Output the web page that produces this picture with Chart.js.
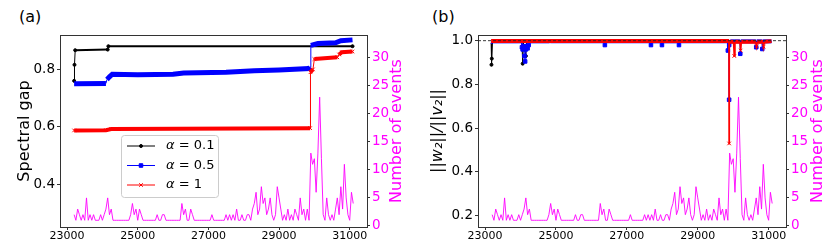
<!DOCTYPE html>
<html>
<head>
<meta charset="utf-8">
<script src="https://cdn.jsdelivr.net/npm/chart.js@4.4.0/dist/chart.umd.min.js"></script>
<style>
  body { margin: 0; background: #fff; }
  #wrap { position: relative; width: 830px; height: 249px; font-family: 'DejaVu Sans', sans-serif; }
  canvas { position: absolute; top: 0; }
  .panel-label { position: absolute; font-size: 16px; line-height: 16px; color: #000; }
</style>
</head>
<body>
<div id="wrap">
  <div class="panel-label" style="left:19px; top:9px">(a)</div>
  <div class="panel-label" style="left:432px; top:9px">(b)</div>
  <canvas id="gapChart" width="415" height="249" style="left:0"></canvas>
  <canvas id="ratioChart" width="415" height="249" style="left:415px"></canvas>
</div>
<script>
// tick labels
const xTicks = [23000, 25000, 27000, 29000, 31000];
const gapTicks = [0.4, 0.6, 0.8];
const ratioTicks = [0.2, 0.4, 0.6, 0.8, 1.0];
const eventTicks = [0, 5, 10, 15, 20, 25, 30];

const alphaLabels = ['0.1', '0.5', '1'];

// number of events, one value every 50 units from 23200
const eventStart = 23200;
const eventStep = 50;
const eventCounts = [
    2, 1, 3, 2, 1, 2, 1, 5, 1, 2, 1, 2, 1, 1, 1, 2, 1, 2, 3, 5,
    2, 3, 1, 1, 1, 1, 1, 1, 1, 1, 1, 1, 2, 4, 2, 3, 1, 3, 2, 1,
    1, 1, 1, 1, 1, 1, 1, 2, 1, 1, 2, 2, 1, 1, 1, 1, 1, 1, 1, 1,
    1, 4, 2, 3, 1, 1, 3, 2, 1, 1, 1, 1, 1, 1, 1, 1, 1, 1, 2, 1,
    1, 1, 1, 1, 1, 1, 2, 1, 2, 1, 2, 1, 3, 1, 1, 2, 1, 1, 2, 2,
    1, 3, 4, 6, 2, 3, 7, 4, 5, 2, 3, 5, 2, 1, 2, 7, 5, 3, 1, 2,
    1, 3, 1, 2, 1, 3, 2, 1, 5, 2, 3, 1, 3, 1, 13, 11, 12, 6, 13, 23,
    12, 2, 1, 5, 2, 1, 2, 1, 3, 5, 2, 7, 3, 11, 5, 2, 1, 6, 4
];

// (a) spectral gap
const gapX01 = [23200, 23210, 23230, 24150, 24170, 31080];
const gap01 = [0.76, 0.816, 0.867, 0.869, 0.881, 0.881];
const gapX05 = [23200, 24100, 24130, 24200, 24280, 25000, 26000, 26300, 27500, 28300, 29000, 29850, 29880, 29900, 30100, 30600, 30750, 31080];
const gap05 = [0.750, 0.751, 0.765, 0.774, 0.783, 0.781, 0.783, 0.787, 0.790, 0.795, 0.798, 0.803, 0.808, 0.884, 0.890, 0.893, 0.900, 0.903];
const gapX1 = [23200, 24100, 24250, 29880, 29890, 29960, 30000, 30650, 30700, 30780, 31080];
const gap1 = [0.587, 0.588, 0.592, 0.595, 0.790, 0.800, 0.836, 0.842, 0.852, 0.860, 0.862];

// (b) ||w2|| / ||v2||
const ratioX01 = [23170, 23180, 23190, 23210, 24040, 24060, 24080, 24150, 24170, 31080];
const ratio01 = [0.99, 0.89, 0.918, 0.995, 0.995, 0.895, 0.99, 0.93, 0.995, 0.995];
const ratioX05 = [23170, 23180, 23190, 24030, 24040, 24060, 24090, 24110, 24130, 24150, 24170, 24200, 24230, 24250,
    24820, 24830, 24840, 26370, 26380, 26390, 27670, 27680, 27690, 27980, 27990, 28000, 28460, 28470, 28480,
    29840, 29850, 29860, 29883, 29885, 29887, 29920, 30190, 30200, 30210, 30640, 30650, 30660, 30810, 30820, 30830, 31080];
const ratio05 = [0.99, 0.985, 0.997, 0.997, 0.97, 0.96, 0.975, 0.93, 0.905, 0.96, 0.975, 0.965, 0.98, 0.997,
    0.997, 0.99, 0.997, 0.997, 0.98, 0.997, 0.997, 0.98, 0.997, 0.997, 0.98, 0.997, 0.997, 0.98, 0.997,
    0.997, 0.955, 0.997, 0.997, 0.73, 0.98, 0.997, 0.997, 0.94, 0.997, 0.997, 0.97, 0.997, 0.997, 0.962, 0.997, 0.997];
const ratioX1 = [23170, 29880, 29885, 29890, 30010, 30030, 30050, 30190, 30210, 30230, 30640, 30660, 30680, 30840, 30860, 30880, 31080];
const ratio1 = [0.998, 0.998, 0.53, 0.995, 0.995, 0.93, 0.995, 0.995, 0.955, 0.995, 0.995, 0.975, 0.995, 0.995, 0.972, 0.995, 0.998];

const FONT = 'DejaVu Sans';
const MAGENTA = '#ff00ff';
const AXIS_COLOR = '#333';

function toPoints(xs, ys) {
    return xs.map((x, i) => ({ x: x, y: ys[i] }));
}

function eventPoints() {
    return eventCounts.map((v, i) => ({ x: eventStart + i * eventStep, y: v }));
}

// thick bands for flat runs, thin lines for the jumps
function segWidth(thick, thin) {
    return ctx => {
        const dx = Math.abs(ctx.p1.x - ctx.p0.x);
        const dy = Math.abs(ctx.p1.y - ctx.p0.y);
        return dy > dx * 1.5 ? thin : thick;
    };
}

function eventsDataset() {
    return {
        label: 'Number of events',
        data: eventPoints(),
        yAxisID: 'yEvents',
        borderColor: 'rgba(255, 0, 255, 0.9)',
        borderWidth: 1,
        pointRadius: 0,
        order: 0
    };
}

function seriesDataset(label, points, color, style, thick, order, radius, thin = 1) {
    return {
        label: label,
        data: points,
        yAxisID: 'y',
        borderColor: color,
        backgroundColor: color,
        borderWidth: thick,
        segment: { borderWidth: segWidth(thick, thin) },
        pointStyle: style,
        pointRadius: radius,
        pointBorderWidth: 1,
        pointBorderColor: color,
        pointBackgroundColor: color,
        order: order
    };
}

function buildScales(leftMin, leftMax, leftTicks, leftWidth, rightWidth) {
    const tickGrid = { display: true, drawOnChartArea: false, drawTicks: true, tickLength: 3, color: AXIS_COLOR };
    return {
        x: {
            type: 'linear',
            min: 22800,
            max: 31490,
            afterBuildTicks: s => { s.ticks = xTicks.map(v => ({ value: v })); },
            afterFit: s => { s.height = 22; },
            ticks: {
                color: '#000',
                font: { family: FONT, size: 11 },
                padding: 0,
                maxRotation: 0,
                autoSkip: false,
                callback: v => String(v)
            },
            grid: tickGrid,
            border: { display: true, color: AXIS_COLOR }
        },
        y: {
            type: 'linear',
            position: 'left',
            min: leftMin,
            max: leftMax,
            afterBuildTicks: s => { s.ticks = leftTicks.map(v => ({ value: v })); },
            afterFit: s => { s.width = leftWidth; },
            ticks: {
                color: '#000',
                font: { family: FONT, size: 13.5 },
                padding: 2,
                callback: v => v.toFixed(1)
            },
            grid: tickGrid,
            border: { display: true, color: AXIS_COLOR }
        },
        yEvents: {
            type: 'linear',
            position: 'right',
            min: -0.2,
            max: 34.1,
            afterBuildTicks: s => { s.ticks = eventTicks.map(v => ({ value: v })); },
            afterFit: s => { s.width = rightWidth; },
            ticks: { color: MAGENTA, font: { family: FONT, size: 13.5 }, padding: 2 },
            grid: tickGrid,
            border: { display: true, color: AXIS_COLOR }
        }
    };
}

// frame, axis titles (both read bottom to top) and reference line
const decorPlugin = {
    id: 'decor',
    afterDatasetsDraw(chart, args, opts) {
        const { ctx, chartArea } = chart;
        ctx.save();
        if (opts.refLine !== undefined) {
            const y = chart.scales.y.getPixelForValue(opts.refLine);
            ctx.strokeStyle = '#222';
            ctx.lineWidth = 0.9;
            ctx.setLineDash([3, 2]);
            ctx.beginPath();
            ctx.moveTo(chartArea.left, y);
            ctx.lineTo(chartArea.right, y);
            ctx.stroke();
            ctx.setLineDash([]);
        }
        ctx.strokeStyle = AXIS_COLOR;
        ctx.lineWidth = 1;
        ctx.beginPath();
        ctx.moveTo(chartArea.left, Math.round(chartArea.top) + 0.5);
        ctx.lineTo(chartArea.right, Math.round(chartArea.top) + 0.5);
        ctx.stroke();

        const midY = (chartArea.top + chartArea.bottom) / 2;
        [[opts.leftTitle, opts.leftX, '#000', opts.leftItalic], [opts.rightTitle, opts.rightX, MAGENTA, false]].forEach(t => {
            ctx.save();
            ctx.translate(t[1], midY);
            ctx.rotate(-Math.PI / 2);
            ctx.fillStyle = t[2];
            ctx.font = (t[3] ? 'italic ' : '') + '16px "' + FONT + '"';
            ctx.textAlign = 'center';
            ctx.textBaseline = 'middle';
            ctx.fillText(t[0], 0, 0);
            ctx.restore();
        });
        ctx.restore();
    }
};

const legendPlugin = {
    id: 'alphaLegend',
    afterDatasetsDraw(chart, args, opts) {
        if (!opts.show) return;
        const ctx = chart.ctx;
        const bx = 121, by = 135, bw = 97, bh = 62;
        ctx.save();
        ctx.fillStyle = 'rgba(255,255,255,0.85)';
        ctx.strokeStyle = '#cccccc';
        ctx.lineWidth = 1;
        ctx.beginPath();
        ctx.roundRect(bx + 0.5, by + 0.5, bw, bh, 3);
        ctx.fill();
        ctx.stroke();
        const rows = [146, 165.5, 185];
        chart.data.datasets.filter(d => d.yAxisID === 'y').forEach((d, i) => {
            const y = rows[i];
            ctx.strokeStyle = d.borderColor;
            ctx.fillStyle = d.borderColor;
            ctx.lineWidth = 1;
            ctx.beginPath();
            ctx.moveTo(127, y);
            ctx.lineTo(155, y);
            ctx.stroke();
            Chart.helpers.drawPoint(ctx, { pointStyle: d.pointStyle, radius: d.pointStyle === 'circle' ? 1.5 : 2.5, rotation: 0, borderWidth: 1 }, 141, y);
            ctx.fillStyle = '#000';
            ctx.textBaseline = 'middle';
            ctx.font = 'italic 13px "' + FONT + '"';
            ctx.fillText('α', 166, y);
            const w = ctx.measureText('α').width;
            ctx.font = '13px "' + FONT + '"';
            ctx.fillText(' = ' + alphaLabels[i], 166 + w, y);
        });
        ctx.restore();
    }
};

function baseOptions(scales, decor, showLegend) {
    return {
        responsive: false,
        animation: false,
        layout: { padding: { top: 35, left: 0, right: 0, bottom: 0 } },
        plugins: {
            legend: { display: false },
            tooltip: { enabled: false },
            decor: decor,
            alphaLegend: { show: showLegend }
        },
        scales: scales
    };
}

function initGapChart() {
    const ctx = document.getElementById('gapChart').getContext('2d');
    new Chart(ctx, {
        type: 'line',
        data: {
            datasets: [
                eventsDataset(),
                seriesDataset('α = 1', toPoints(gapX1, gap1), '#ff0000', 'crossRot', 4, 1, 2.5),
                seriesDataset('α = 0.5', toPoints(gapX05, gap05), '#0000ff', 'rect', 5, 2, 0),
                seriesDataset('α = 0.1', toPoints(gapX01, gap01), '#000000', 'circle', 2, 3, 1.5)
            ].reverse()
        },
        options: baseOptions(
            buildScales(0.25, 0.92, gapTicks, 60, 48),
            { leftTitle: 'Spectral gap', leftX: 25, rightTitle: 'Number of events', rightX: 397 },
            true
        ),
        plugins: [decorPlugin, legendPlugin]
    });
}

function initRatioChart() {
    const ctx = document.getElementById('ratioChart').getContext('2d');
    const dipRadius = r => c => (c.raw && c.raw.y < 0.985 ? r : 0);
    new Chart(ctx, {
        type: 'line',
        data: {
            datasets: [
                eventsDataset(),
                seriesDataset('α = 1', toPoints(ratioX1, ratio1), '#ff0000', 'crossRot', 4, 1, dipRadius(2.5), 1.6),
                seriesDataset('α = 0.5', toPoints(ratioX05, ratio05), '#0000ff', 'rect', 4, 2, dipRadius(2.5)),
                seriesDataset('α = 0.1', toPoints(ratioX01, ratio01), '#000000', 'circle', 2, 3, dipRadius(1.5))
            ].reverse()
        },
        options: baseOptions(
            buildScales(0.148, 1.026, ratioTicks, 63, 44),
            { leftTitle: '||w₂||/||v₂||', leftX: 23, leftItalic: true, rightTitle: 'Number of events', rightX: 403, refLine: 1.0 },
            false
        ),
        plugins: [decorPlugin, legendPlugin]
    });
}

initGapChart();
initRatioChart();
</script>
</body>
</html>
